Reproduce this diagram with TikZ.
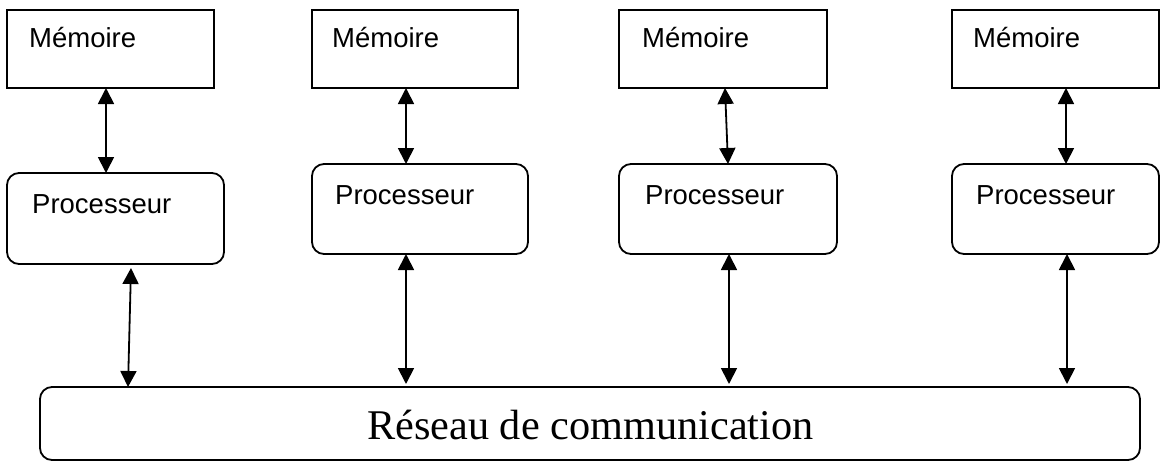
\documentclass[tikz,border=0pt]{standalone}
\usepackage{fontspec}
\setmainfont{Liberation Serif}
\newfontfamily\labelfont{Liberation Sans}
\usetikzlibrary{arrows.meta,calc}

\tikzset{
  memorybox/.style={draw, line width=1.8pt, inner sep=0pt, outer sep=0pt, minimum height=78pt},
  procbox/.style={draw, line width=1.8pt, rounded corners=12pt, inner sep=0pt, outer sep=0pt, minimum height=90pt},
  netbox/.style={draw, line width=1.8pt, rounded corners=12pt, inner sep=0pt, outer sep=0pt},
  boxlabel/.style={anchor=base west, inner sep=0pt, font=\labelfont\fontsize{27.5}{30}\selectfont},
  netlabel/.style={anchor=base west, inner sep=0pt, font=\fontsize{42.3}{46}\selectfont},
  link/.style={line width=1.8pt, {Triangle[length=16pt,width=16pt]}-{Triangle[length=16pt,width=16pt]}}
}

\begin{document}
\begin{tikzpicture}[x=1pt,y=-1pt]
\useasboundingbox (0,0) rectangle (1160,461);

% memories
\node[memorybox, minimum width=207pt] (m1) at (110.5,49) {};
\node[memorybox, minimum width=206pt] (m2) at (415,49) {};
\node[memorybox, minimum width=208pt] (m3) at (723,49) {};
\node[memorybox, minimum width=207pt] (m4) at (1055.5,49) {};

% processors
\node[procbox, minimum width=217pt, minimum height=91pt] (p1) at (115.5,218.5) {};
\node[procbox, minimum width=216pt] (p2) at (420,209) {};
\node[procbox, minimum width=218pt] (p3) at (728,209) {};
\node[procbox, minimum width=207pt] (p4) at (1055.5,209) {};

% network
\node[netbox, minimum width=1100pt, minimum height=73pt] (net) at (590,423.5) {};

% labels
\node[boxlabel] (tm1) at (29,47) {Mémoire};
\node[boxlabel] (tm2) at (332,47) {Mémoire};
\node[boxlabel] (tm3) at (642,47) {Mémoire};
\node[boxlabel] (tm4) at (973,47) {Mémoire};

\node[boxlabel] (tp1) at (32,213) {Processeur};
\node[boxlabel] (tp2) at (335,204) {Processeur};
\node[boxlabel] (tp3) at (645,204) {Processeur};
\node[boxlabel] (tp4) at (976,204) {Processeur};

\node[netlabel] (tn) at (367,439) {Réseau de communication};

% memory <-> processor
\draw[link] (106,0 |- m1.south) -- (106,0 |- p1.north);
\draw[link] (406,0 |- m2.south) -- (406,0 |- p2.north);
\draw[link] (725,0 |- m3.south) -- (728,0 |- p3.north);
\draw[link] (1066,0 |- m4.south) -- (1066,0 |- p4.north);

% processor <-> network
\coordinate (b1) at (131,268);
\draw[link] (b1) -- (128,0 |- net.north);
\draw[link] (406,0 |- p2.south) -- ($(406,0 |- net.north)+(0,-3)$);
\draw[link] (729,0 |- p3.south) -- ($(729,0 |- net.north)+(0,-3)$);
\draw[link] (1067,0 |- p4.south) -- ($(1067,0 |- net.north)+(0,-3)$);
\end{tikzpicture}
\end{document}
